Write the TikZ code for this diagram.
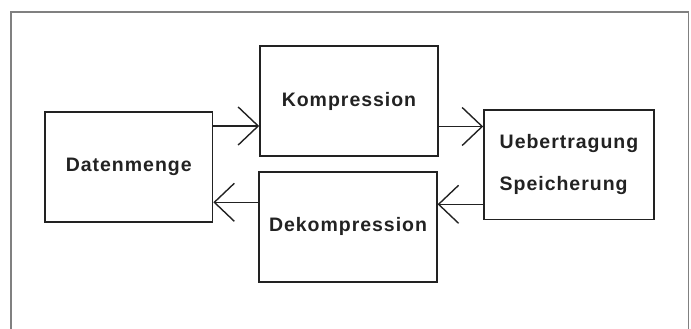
\documentclass[tikz,border=0pt]{standalone}
\usepackage{fontspec}
\usetikzlibrary{arrows.meta}
\newfontfamily\labfont{Liberation Sans}[LetterSpace=5]
\definecolor{ink}{HTML}{222222}
\definecolor{framegray}{HTML}{808080}
\begin{document}
\begin{tikzpicture}[x=1pt,y=-1pt,
  box/.style={draw=ink,line width=1.6pt,rectangle,inner sep=0pt,text=ink,
    font={\labfont\bfseries\fontsize{19.5}{42}\selectfont}},
  arr/.style={draw=ink,line width=1.4pt,-{Straight Barb[length=20pt,width=38pt]}}
]
\useasboundingbox (0,0) rectangle (691,329);
\draw[framegray,line width=1.5pt] (11,332) -- (11,12) -- (688.5,12) -- (688.5,332);

\node[box,minimum width=167.5pt,minimum height=110pt] (D) at (128.75,167) {Datenmenge};
\node[box,minimum width=178pt,minimum height=110pt] (K) at (349,101) {Kompression};
\node[box,minimum width=177.5pt,minimum height=110pt] (E) at (348,226.7) {Dekompression};
\node[box,minimum width=170pt,minimum height=109.5pt,align=left] (U) at (569,164.75) {Uebertragung\\Speicherung};

\coordinate (r1) at (0,126);
\coordinate (r2) at (0,126.5);
\coordinate (r3) at (0,202.3);
\coordinate (r4) at (0,204.3);
\draw[arr] (D.east |- r1) -- (K.west |- r1);
\draw[arr] (K.east |- r2) -- (U.west |- r2);
\draw[arr] (E.west |- r3) -- (D.east |- r3);
\draw[arr] (U.west |- r4) -- (E.east |- r4);
\end{tikzpicture}
\end{document}
